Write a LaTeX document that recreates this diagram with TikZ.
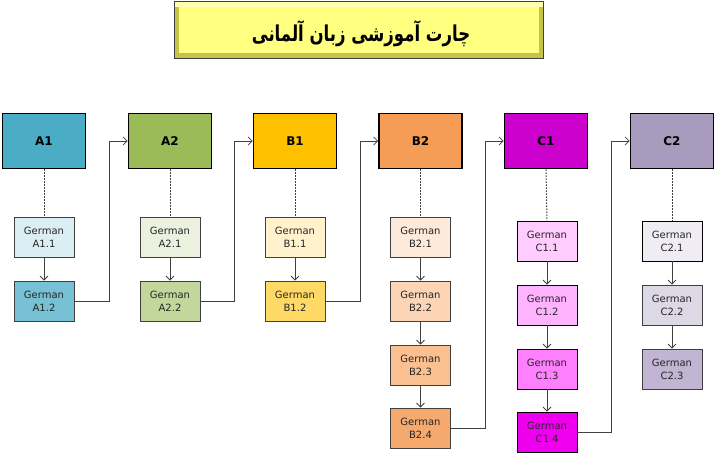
\documentclass[tikz,border=0pt]{standalone}
\usepackage{graphicx}
\usepackage{fontspec}
\setmainfont{DejaVu Sans}
\newfontfamily\arabicfont[Script=Arabic]{DejaVu Sans}
\TeXXeTstate=1
\usetikzlibrary{arrows.meta}
\definecolor{cA}{HTML}{4BACC6}\definecolor{cAa}{HTML}{DAEEF3}\definecolor{cAb}{HTML}{78C0D4}
\definecolor{cB}{HTML}{9BBB59}\definecolor{cBa}{HTML}{EBF1DE}\definecolor{cBb}{HTML}{C3D69B}
\definecolor{cC}{HTML}{FFC000}\definecolor{cCa}{HTML}{FFF2CC}\definecolor{cCb}{HTML}{FFD966}
\definecolor{cD}{HTML}{F59D56}\definecolor{cDa}{HTML}{FDEADA}\definecolor{cDb}{HTML}{FBD5B5}\definecolor{cDc}{HTML}{FAC08F}\definecolor{cDd}{HTML}{F6A96D}
\definecolor{cE}{HTML}{CC00CC}\definecolor{cEa}{HTML}{FFCCFF}\definecolor{cEb}{HTML}{FFB3FF}\definecolor{cEc}{HTML}{FF80FF}\definecolor{cEd}{HTML}{EE00EE}
\definecolor{cF}{HTML}{A99BBD}\definecolor{cFa}{HTML}{EFEDF3}\definecolor{cFb}{HTML}{DDD8E6}\definecolor{cFc}{HTML}{C1B5D3}
\definecolor{edge}{HTML}{404040}
\definecolor{tOlive}{RGB}{196,196,72}
\definecolor{tLight}{RGB}{255,255,175}
\definecolor{tFill}{RGB}{255,255,128}
\tikzset{
 levelbox/.style={draw=black,line width=1.6pt,minimum width=83pt,minimum height=55pt,inner sep=0pt,font=\fontsize{12}{14}\selectfont\bfseries},
 subbox/.style={draw=edge,line width=0.8pt,minimum width=60pt,minimum height=40pt,inner sep=0pt,align=center,font=\fontsize{10}{13}\selectfont,text=black!85},
 conn/.style={draw=edge,line width=0.8pt,-{Straight Barb[length=4pt,width=8pt]}},
 dotline/.style={draw=edge,line width=1pt,dash pattern=on 1.5pt off 1.5pt}
}
\begin{document}
\begin{tikzpicture}[x=1pt,y=-1pt]
\useasboundingbox (0,0) rectangle (716,454);
% title
\fill[tOlive] (174,2) rectangle (543,59);
\fill[tLight] (174,2) rectangle (543,7);
\fill[tFill] (179,7) rectangle (539,53);
\draw[draw=edge,line width=1pt] (174,2) rectangle (543,59);
\node[inner sep=0pt] (title) at (361,34) {\scalebox{0.87}[1.15]{\arabicfont\bfseries\fontsize{19}{22}\selectfont\beginR چارت آموزشی زبان آلمانی\endR}};
% level boxes
\node[levelbox,fill=cA] (A1) at (44,141) {A1};
\node[levelbox,fill=cB] (A2) at (170,141) {A2};
\node[levelbox,fill=cC] (B1) at (295,141) {B1};
\node[levelbox,fill=cD] (B2) at (420.5,141) {B2};
\node[levelbox,fill=cE] (C1) at (546,141) {C1};
\node[levelbox,fill=cF] (C2) at (672,141) {C2};
% sub boxes
\node[subbox,fill=cAa] (a11) at (44,237) {German\\A1.1};
\node[subbox,fill=cAb] (a12) at (44,301) {German\\A1.2};
\node[subbox,fill=cBa] (a21) at (170,237) {German\\A2.1};
\node[subbox,fill=cBb] (a22) at (170,301) {German\\A2.2};
\node[subbox,fill=cCa] (b11) at (295,237) {German\\B1.1};
\node[subbox,fill=cCb] (b12) at (295,301) {German\\B1.2};
\node[subbox,fill=cDa] (b21) at (420.5,237) {German\\B2.1};
\node[subbox,fill=cDb] (b22) at (420.5,301) {German\\B2.2};
\node[subbox,fill=cDc] (b23) at (420.5,365) {German\\B2.3};
\node[subbox,fill=cDd] (b24) at (420.5,428) {German\\B2.4};
\node[subbox,fill=cEa,draw=black] (c11) at (547,241) {German\\C1.1};
\node[subbox,fill=cEb,draw=black] (c12) at (547,305) {German\\C1.2};
\node[subbox,fill=cEc,draw=black] (c13) at (547,369) {German\\C1.3};
\node[subbox,fill=cEd,draw=black] (c14) at (547,432) {German\\C1.4};
\node[subbox,fill=cFa,draw=black] (c21) at (672,241) {German\\C2.1};
\node[subbox,fill=cFb] (c22) at (672,305) {German\\C2.2};
\node[subbox,fill=cFc] (c23) at (672,369) {German\\C2.3};
% dotted
\foreach \t/\s in {A1/a11,A2/a21,B1/b11,B2/b21,C1/c11,C2/c21}
  \draw[dotline] (\t.south) -- (\s.north);
% vertical arrows
\foreach \u/\v in {a11/a12,a21/a22,b11/b12,b21/b22,b22/b23,b23/b24,c11/c12,c12/c13,c13/c14,c21/c22,c22/c23}
  \draw[conn] (\u.south) -- (\v.north);
% elbow connectors
\foreach \u/\v in {a12/A2,a22/B1,b12/B2,b24/C1,c14/C2}
  \draw[conn] (\u.east) -| ([xshift=-18pt]\v.west) -- (\v.west);
\end{tikzpicture}
\end{document}
